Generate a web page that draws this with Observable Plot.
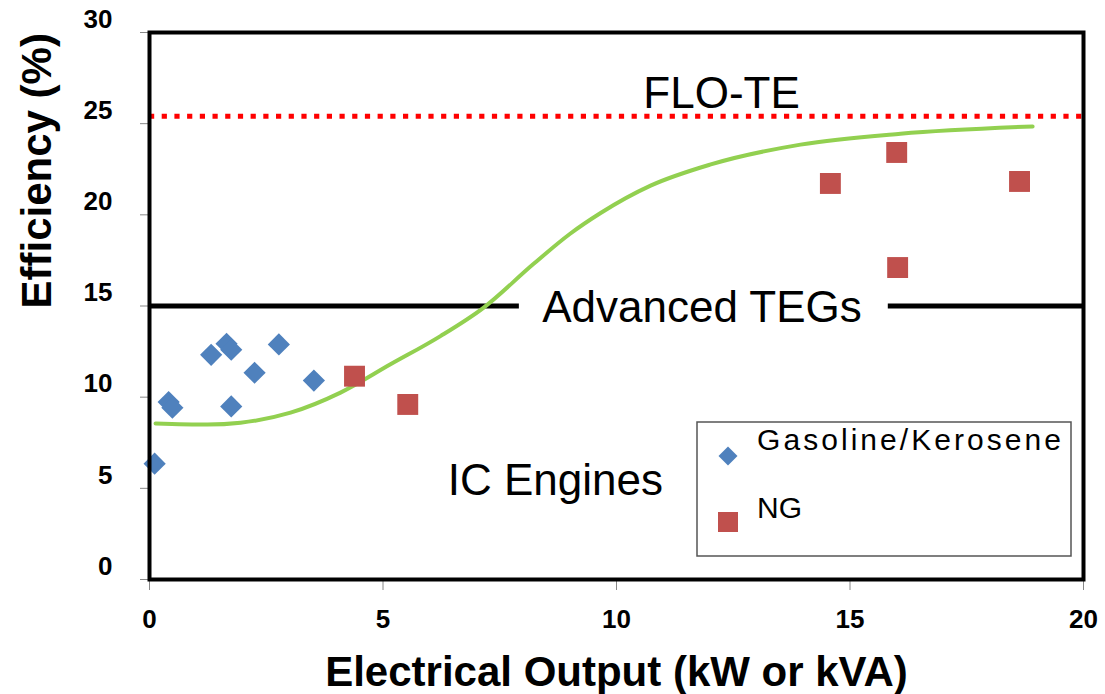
<!DOCTYPE html>
<html>
<head>
<meta charset="utf-8">
<script src="https://cdn.jsdelivr.net/npm/d3@7"></script>
<script src="https://cdn.jsdelivr.net/npm/@observablehq/plot@0.6"></script>
<style>
  body { margin: 0; background: #fff; }
  #wrap { position: relative; width: 1105px; height: 694px; font-family: 'Liberation Sans', Arial, sans-serif; }
</style>
</head>
<body>
<div id="wrap"></div>
<script>
// ---- data ----
const xTicks = [0, 5, 10, 15, 20];
const yTicks = [0, 5, 10, 15, 20, 25, 30];

const seriesNames = ["Gasoline/Kerosene", "NG"];
const seriesColors = ["#4F81BD", "#C0504D"];

const gasolineX = [0.11, 0.41, 0.49, 1.32, 1.65, 1.75, 1.75, 2.25, 2.77, 3.52];
const gasolineY = [6.35, 9.73, 9.42, 12.32, 12.93, 12.6, 9.49, 11.34, 12.89, 10.91];

const ngX = [4.39, 5.53, 14.58, 16.0, 16.02, 18.63];
const ngY = [11.15, 9.6, 21.72, 23.42, 17.11, 21.83];

const trendX = [0.13, 1.24, 1.95, 3.02, 4.09, 5.16, 6.23, 7.15, 8.22, 9.0, 9.66, 10.73, 12.0, 13.94, 16.08, 18.91];
const trendY = [8.56, 8.5, 8.6, 9.15, 10.25, 11.8, 13.35, 14.9, 17.3, 18.95, 20.1, 21.6, 22.75, 23.85, 24.45, 24.85];

const floTE = 25.4;            // FLO-TE efficiency level
const advancedTEG = 15;        // Advanced TEGs level
const tegSegmentsX1 = [0, 15.82];
const tegSegmentsX2 = [7.92, 20];

const labelText = ["FLO-TE", "Advanced TEGs", "IC Engines"];
const labelX = [12.25, 11.83, 8.69];
const labelY = [25.88, 14.12, 4.62];

const xTitle = "Electrical Output (kW or kVA)";
const yTitle = "Efficiency (%)";

// ---- build tables ----
const gas = gasolineX.map((x, i) => ({x, y: gasolineY[i]}));
const ng = ngX.map((x, i) => ({x, y: ngY[i]}));
const trend = trendX.map((x, i) => ({x, y: trendY[i]}));
const tegSegs = tegSegmentsX1.map((x1, i) => ({x1, x2: tegSegmentsX2[i], y: advancedTEG}));
const labels = labelText.map((t, i) => ({t, x: labelX[i], y: labelY[i]}));

const font = "'Liberation Sans', Arial, sans-serif";

const chart = Plot.plot({
  width: 1105,
  height: 694,
  marginLeft: 149,
  marginRight: 22,
  marginTop: 32,
  marginBottom: 115,
  x: {domain: [0, 20]},
  y: {domain: [0, 30]},
  style: {fontFamily: font, background: "white", color: "black"},
  marks: [
    Plot.axisX({ticks: xTicks, tickSize: 11, tickPadding: 19, stroke: "#888", fill: "black",
      fontSize: 26, fontWeight: "bold", label: null}),
    // y tick marks only
    Plot.axisY({ticks: yTicks, tickSize: 9, tickFormat: () => "", stroke: "#888", label: null}),
    // y tick labels, raised above their ticks as in the reference
    Plot.axisY({ticks: yTicks, tickSize: 0, tickPadding: 37, dy: -13, fill: "black",
      fontSize: 26, fontWeight: "bold", label: null}),
    Plot.ruleY([floTE], {stroke: "#FF0000", strokeWidth: 5, strokeDasharray: "5.2,7.5"}),
    Plot.ruleY(tegSegs, {y: "y", x1: "x1", x2: "x2", stroke: "black", strokeWidth: 5}),
    Plot.line(trend, {x: "x", y: "y", curve: "monotone-x", stroke: "#92D050", strokeWidth: 4}),
    Plot.dot(gas, {x: "x", y: "y", symbol: "diamond2", r: 10, fill: seriesColors[0], stroke: "none"}),
    Plot.dot(ng, {x: "x", y: "y", symbol: "square", r: 11.8, fill: seriesColors[1], stroke: "none"}),
    Plot.text(labels, {x: "x", y: "y", text: "t", fontSize: 44, lineAnchor: "bottom", fill: "black"}),
    Plot.frame({stroke: "black", strokeWidth: 4}),
    Plot.text([xTitle], {frameAnchor: "bottom", dy: 106, lineAnchor: "bottom", fontSize: 42, fontWeight: "bold", fill: "black"}),
    Plot.text([yTitle], {frameAnchor: "left", rotate: -90, dx: -99, dy: 2.5, lineAnchor: "bottom", fontSize: 42, fontWeight: "bold", fill: "black"})
  ]
});

const wrap = document.getElementById("wrap");
wrap.appendChild(chart);

// ---- legend (inside plot area, lower right) ----
const leg = d3.create("svg")
  .attr("width", 377).attr("height", 137)
  .style("position", "absolute").style("left", "696px").style("top", "421px")
  .style("font-family", font);
leg.append("rect").attr("x", 1).attr("y", 1).attr("width", 374).attr("height", 134)
  .attr("fill", "white").attr("stroke", "#555").attr("stroke-width", 1.5);
leg.append("path").attr("d", d3.symbol(d3.symbolDiamond2, 230)()).attr("transform", "translate(32,35)").attr("fill", seriesColors[0]);
leg.append("rect").attr("x", 22).attr("y", 91).attr("width", 20).attr("height", 20).attr("fill", seriesColors[1]);
leg.append("text").attr("x", 61).attr("y", 29).attr("font-size", 30).attr("textLength", 304).attr("lengthAdjust", "spacing").text(seriesNames[0]);
leg.append("text").attr("x", 61).attr("y", 97).attr("font-size", 30).text(seriesNames[1]);
wrap.appendChild(leg.node());
</script>
</body>
</html>
